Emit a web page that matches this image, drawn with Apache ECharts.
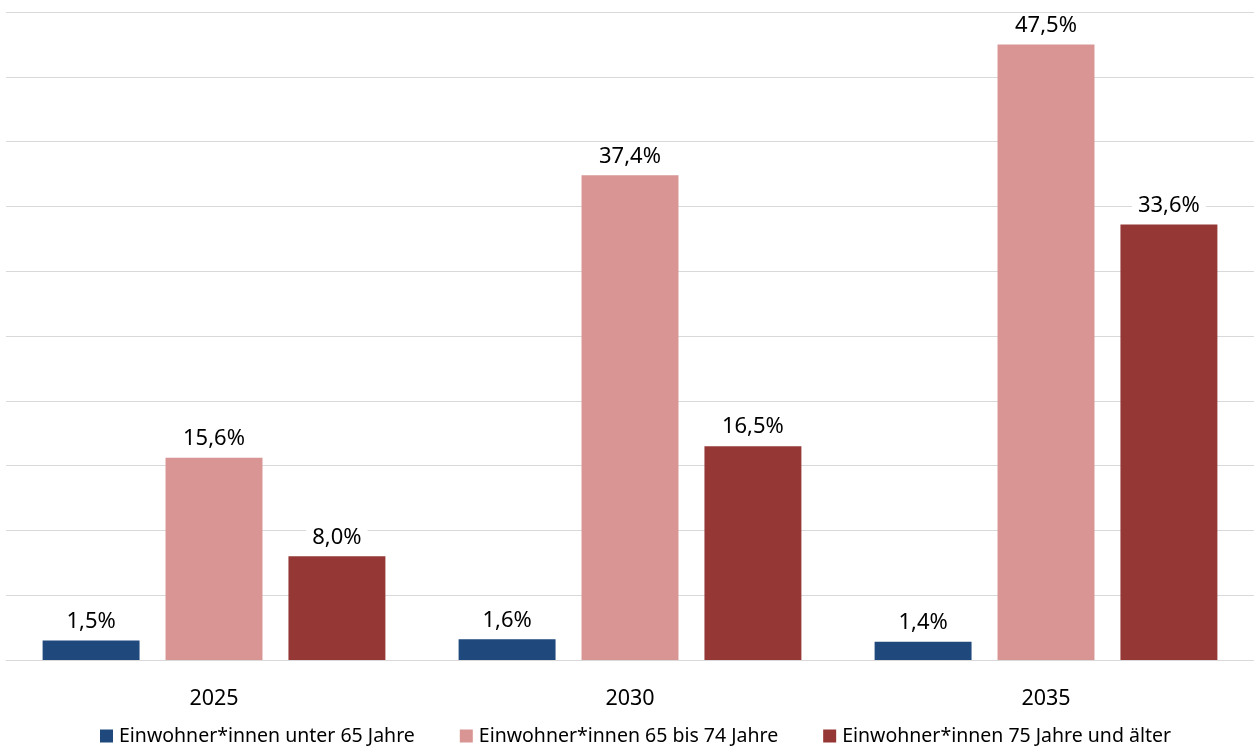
<!DOCTYPE html>
<html>
<head>
<meta charset="utf-8">
<script src="https://cdn.jsdelivr.net/npm/echarts@6/dist/echarts.min.js"></script>
<style>
  html, body { margin: 0; padding: 0; background: #fff; }
  #chart { width: 1254px; height: 749px; }
</style>
</head>
<body>
<div id="chart"></div>
<script>
// Jahre (Kategorien)
const years = ['2025', '2030', '2035'];

// Anteile je Altersgruppe in Prozent
const seriesNames = [
  'Einwohner*innen unter 65 Jahre',
  'Einwohner*innen 65 bis 74 Jahre',
  'Einwohner*innen 75 Jahre und älter'
];
const under65 = [1.5, 1.6, 1.4];
const age65to74 = [15.6, 37.4, 47.5];
const age75plus = [8.0, 16.5, 33.6];

const colors = ['#1F497D', '#D99594', '#953735'];
const font = '"Noto Sans", "Open Sans", sans-serif';

const fmt = v => v.toFixed(1).replace('.', ',') + '%';

function makeSeries(name, data, color) {
  return {
    name: name,
    type: 'bar',
    data: data,
    barGap: '26.8%',
    barCategoryGap: '17.6%',
    itemStyle: { color: color },
    label: {
      show: true,
      position: 'top',
      distance: 7,
      formatter: p => fmt(p.value),
      color: '#000',
      fontSize: 22,
      fontFamily: font,
      backgroundColor: '#fff',
      padding: [1, 6]
    }
  };
}

const chart = echarts.init(document.getElementById('chart'));
chart.setOption({
  animation: false,
  textStyle: { fontFamily: font },
  grid: { left: 6, right: 0, top: 12, bottom: 89, containLabel: false },
  xAxis: {
    type: 'category',
    data: years,
    axisLine: { show: true, lineStyle: { color: '#D9D9D9', width: 1 } },
    axisTick: { show: false },
    axisLabel: { fontSize: 21.5, color: '#000', margin: 28, fontFamily: font }
  },
  yAxis: {
    type: 'value',
    min: 0,
    max: 50,
    interval: 5,
    axisLine: { show: false },
    axisTick: { show: false },
    axisLabel: { show: false },
    splitLine: { lineStyle: { color: '#D9D9D9', width: 1 } }
  },
  legend: {
    top: 726,
    left: 100,
    padding: 0,
    itemWidth: 13,
    itemHeight: 13,
    itemGap: 45,
    icon: 'rect',
    textStyle: { fontSize: 19.5, color: '#000', fontFamily: font, padding: [0, 0, 0, 1] }
  },
  series: [
    makeSeries(seriesNames[0], under65, colors[0]),
    makeSeries(seriesNames[1], age65to74, colors[1]),
    makeSeries(seriesNames[2], age75plus, colors[2])
  ]
});
</script>
</body>
</html>
